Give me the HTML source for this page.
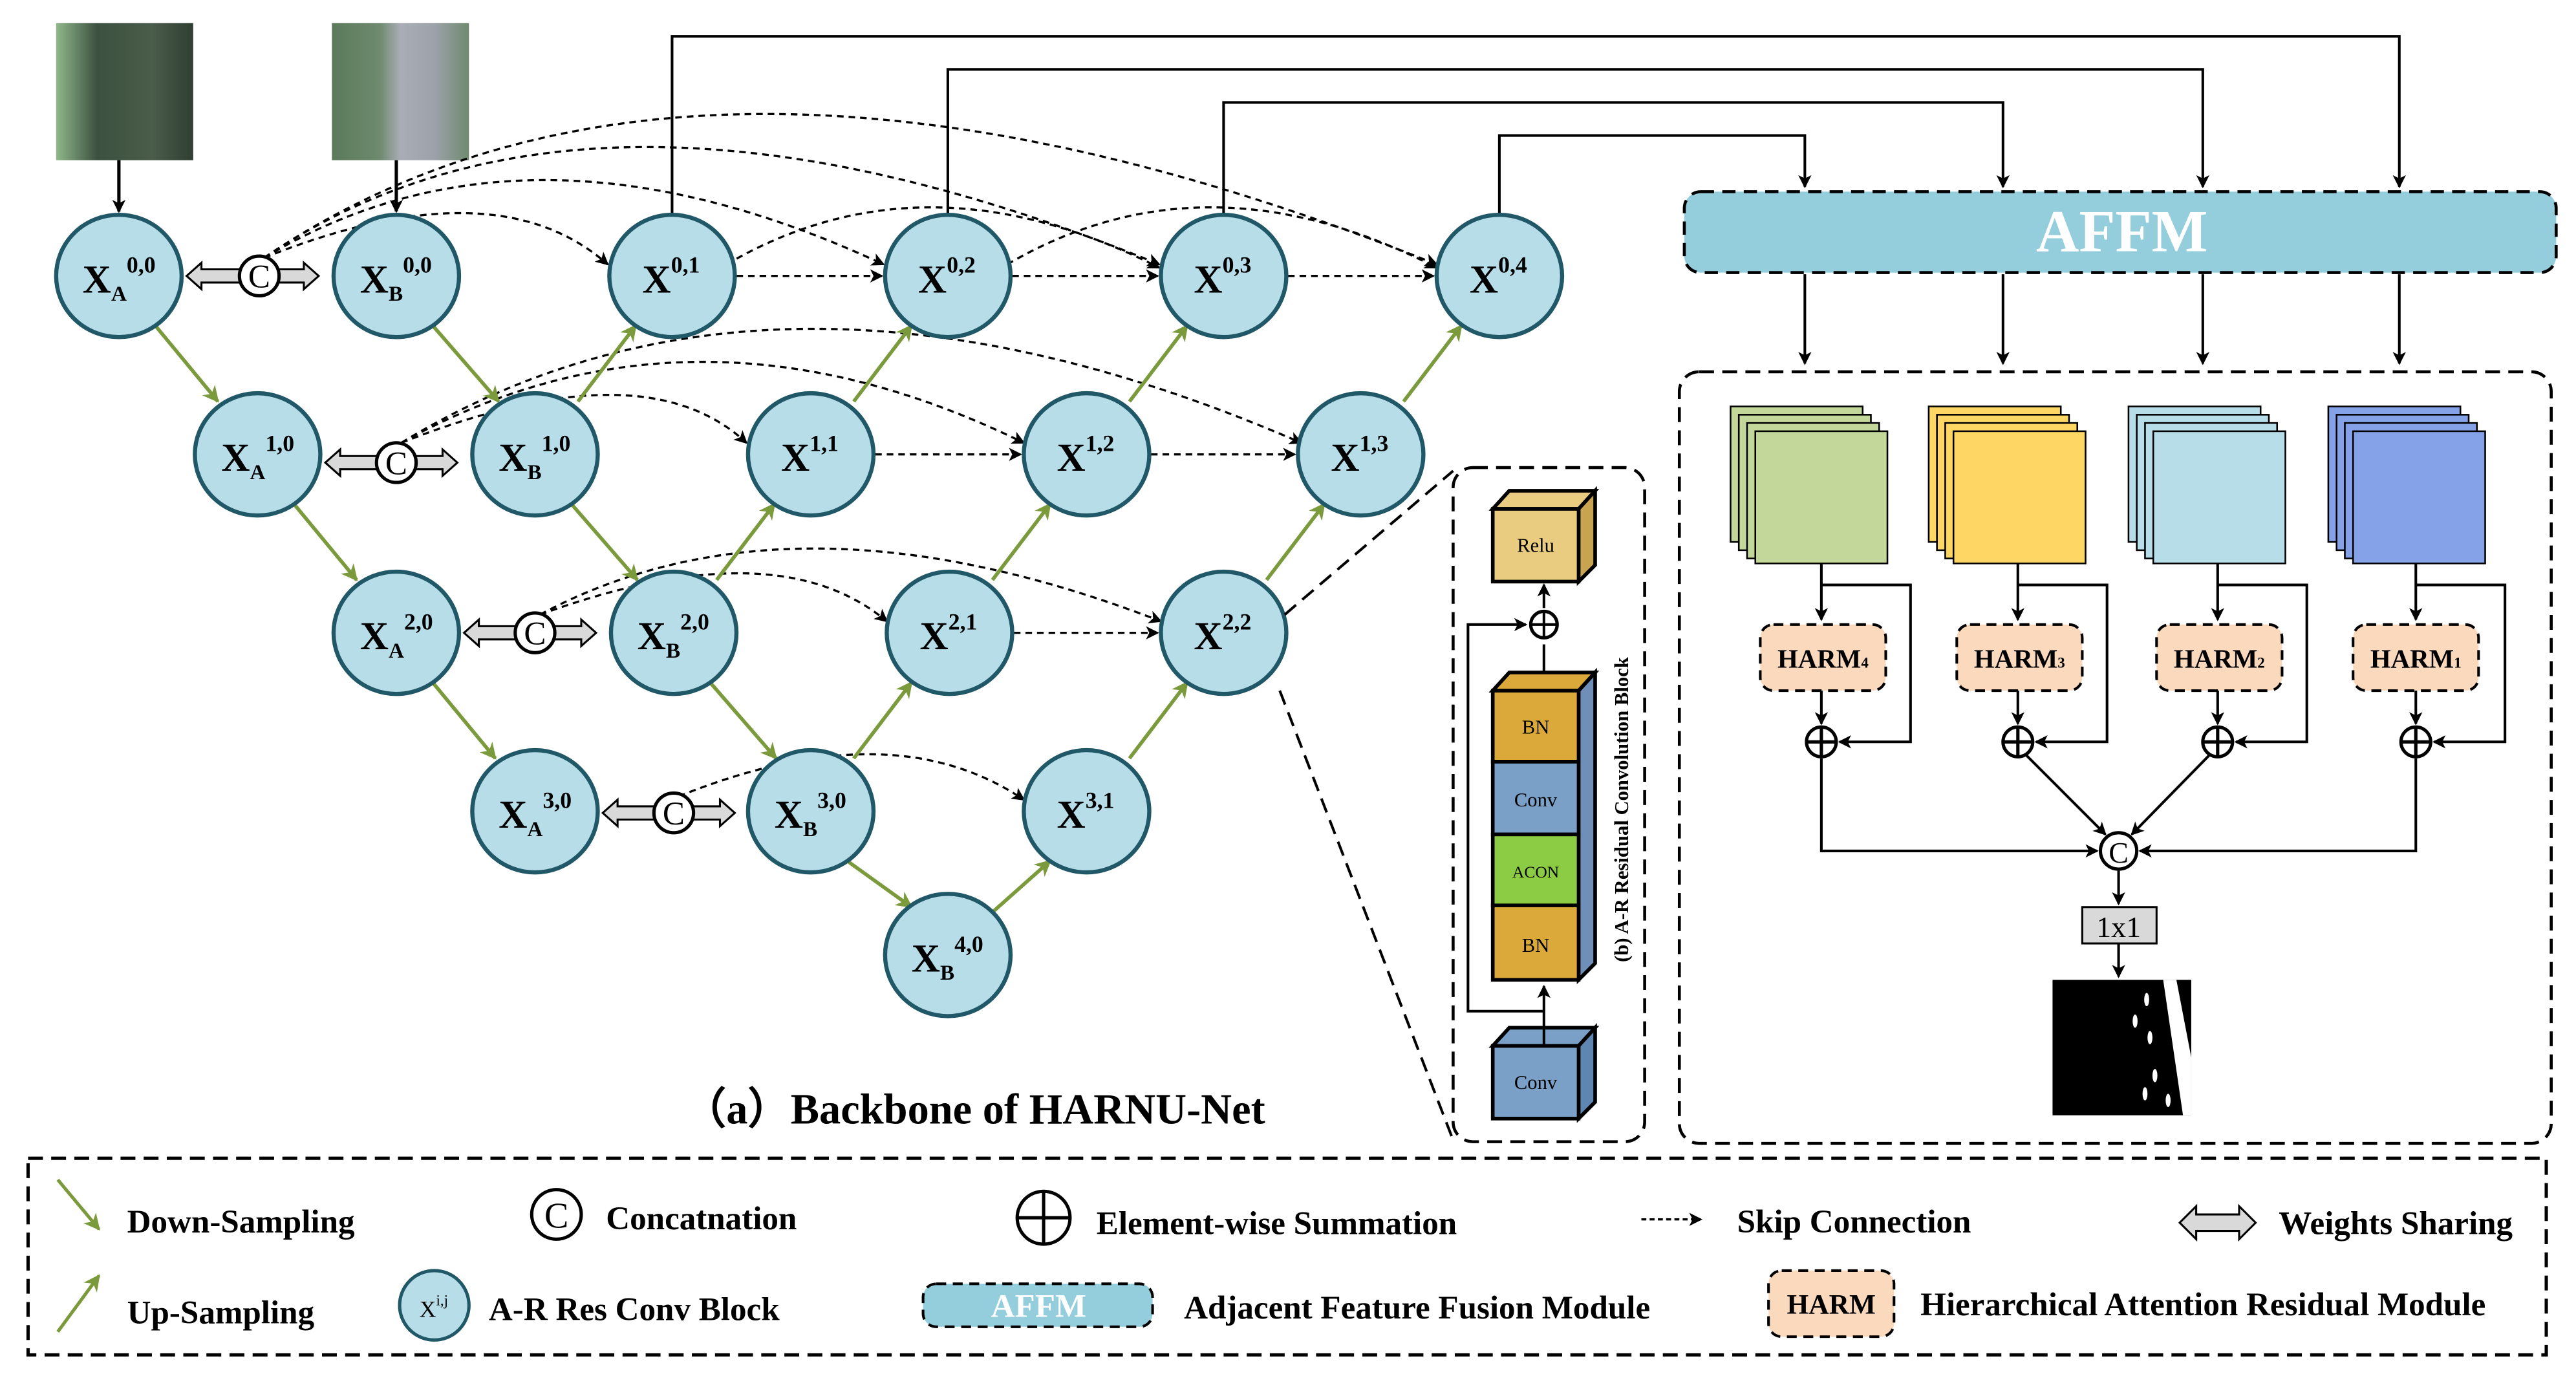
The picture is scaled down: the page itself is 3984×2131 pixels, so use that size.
<!DOCTYPE html>
<html><head><meta charset="utf-8"><style>html,body{margin:0;padding:0;background:#fff}svg{display:block}</style></head><body>
<svg width="3984" height="2131" viewBox="0 0 1560 834" preserveAspectRatio="none" xmlns="http://www.w3.org/2000/svg" font-family="Liberation Serif, serif">
<defs>
<marker id="ak" markerWidth="8" markerHeight="8" refX="7" refY="4" orient="auto" markerUnits="userSpaceOnUse"><path d="M0,0 L8,4 L0,8 L2,4 Z" fill="#000"/></marker>
<marker id="ag" markerWidth="10" markerHeight="10" refX="9" refY="5" orient="auto" markerUnits="userSpaceOnUse"><path d="M0,0 L10,5 L0,10 L3,5 Z" fill="#7a9a3c"/></marker>
<linearGradient id="img1" x1="0" x2="1"><stop offset="0" stop-color="#8fb88a"/><stop offset="0.3" stop-color="#3c5140"/><stop offset="0.7" stop-color="#4a5c4a"/><stop offset="1" stop-color="#2f3f33"/></linearGradient>
<linearGradient id="img2" x1="0" x2="1"><stop offset="0" stop-color="#5a7a5a"/><stop offset="0.35" stop-color="#6f8a6f"/><stop offset="0.5" stop-color="#a9adb5"/><stop offset="0.75" stop-color="#9da2aa"/><stop offset="1" stop-color="#6e8a6e"/></linearGradient>
</defs>

<!-- input images -->
<rect x="34" y="14" width="83" height="83" fill="url(#img1)"/>
<rect x="201" y="14" width="83" height="83" fill="url(#img2)"/>
<line x1="72" y1="97" x2="72" y2="128" stroke="#000" stroke-width="2" marker-end="url(#ak)"/>
<line x1="240" y1="97" x2="240" y2="128" stroke="#000" stroke-width="2" marker-end="url(#ak)"/>

<!-- top connections to AFFM -->
<g fill="none" stroke="#000" stroke-width="1.6">
<polyline points="407,131 407,22 1453,22 1453,113" marker-end="url(#ak)"/>
<polyline points="574,131 574,42 1334,42 1334,113" marker-end="url(#ak)"/>
<polyline points="741,131 741,62 1213,62 1213,113" marker-end="url(#ak)"/>
<polyline points="908,131 908,82 1093,82 1093,113" marker-end="url(#ak)"/>
</g>

<!-- skip connections -->
<g fill="none" stroke="#000" stroke-width="1.3" stroke-dasharray="4,3">
<line x1="446" y1="167" x2="534" y2="167" marker-end="url(#ak)"/>
<line x1="613" y1="167" x2="701" y2="167" marker-end="url(#ak)"/>
<line x1="780" y1="167" x2="868" y2="167" marker-end="url(#ak)"/>
<line x1="530" y1="275" x2="618" y2="275" marker-end="url(#ak)"/>
<line x1="697" y1="275" x2="784" y2="275" marker-end="url(#ak)"/>
<line x1="614" y1="383" x2="701" y2="383" marker-end="url(#ak)"/>
<path d="M160,156 Q300,100 368,160" marker-end="url(#ak)"/>
<path d="M160,156 Q320,60 535,160" marker-end="url(#ak)"/>
<path d="M160,156 Q360,20 702,160" marker-end="url(#ak)"/>
<path d="M160,156 Q420,-20 870,160" marker-end="url(#ak)"/>
<path d="M440,160 Q560,90 702,162" marker-end="url(#ak)"/>
<path d="M610,160 Q730,90 870,162" marker-end="url(#ak)"/>
<path d="M243,268 Q390,210 452,268" marker-end="url(#ak)"/>
<path d="M243,268 Q420,170 620,268" marker-end="url(#ak)"/>
<path d="M243,268 Q470,130 788,268" marker-end="url(#ak)"/>
<path d="M327,372 Q470,320 537,376" marker-end="url(#ak)"/>
<path d="M327,372 Q480,290 703,376" marker-end="url(#ak)"/>
<path d="M411,482 Q540,430 620,484" marker-end="url(#ak)"/>
</g>

<!-- green sampling arrows -->
<g stroke="#7a9a3c" stroke-width="2.2" fill="none">
<line x1="94" y1="197" x2="132" y2="243" marker-end="url(#ag)"/>
<line x1="178" y1="305" x2="216" y2="351" marker-end="url(#ag)"/>
<line x1="262" y1="413" x2="300" y2="459" marker-end="url(#ag)"/>
<line x1="262" y1="197" x2="302" y2="243" marker-end="url(#ag)"/>
<line x1="346" y1="305" x2="386" y2="351" marker-end="url(#ag)"/>
<line x1="430" y1="413" x2="470" y2="459" marker-end="url(#ag)"/>
<line x1="513" y1="521" x2="552" y2="549" marker-end="url(#ag)"/>
<line x1="350" y1="243" x2="385" y2="197" marker-end="url(#ag)"/>
<line x1="517" y1="243" x2="552" y2="197" marker-end="url(#ag)"/>
<line x1="684" y1="243" x2="719" y2="197" marker-end="url(#ag)"/>
<line x1="850" y1="243" x2="885" y2="197" marker-end="url(#ag)"/>
<line x1="434" y1="351" x2="469" y2="305" marker-end="url(#ag)"/>
<line x1="601" y1="351" x2="636" y2="305" marker-end="url(#ag)"/>
<line x1="767" y1="351" x2="802" y2="305" marker-end="url(#ag)"/>
<line x1="517" y1="459" x2="552" y2="413" marker-end="url(#ag)"/>
<line x1="684" y1="459" x2="719" y2="413" marker-end="url(#ag)"/>
<line x1="600" y1="553" x2="636" y2="521" marker-end="url(#ag)"/>
</g>

<!-- weight sharing arrows + C -->
<g fill="#d9d9d9" stroke="#000" stroke-width="1.2">
<path d="M113,167 l9,-8 v4 h62 v-4 l9,8 l-9,8 v-4 h-62 v4 z"/>
<path d="M197,280 l9,-8 v4 h62 v-4 l9,8 l-9,8 v-4 h-62 v4 z"/>
<path d="M281,383 l9,-8 v4 h62 v-4 l9,8 l-9,8 v-4 h-62 v4 z"/>
<path d="M365,492 l9,-8 v4 h62 v-4 l9,8 l-9,8 v-4 h-62 v4 z"/>
</g>
<g fill="#fff" stroke="#000" stroke-width="2">
<circle cx="157" cy="167" r="12"/><circle cx="240" cy="280" r="12"/><circle cx="324" cy="383" r="12"/><circle cx="408" cy="492" r="12"/>
</g>
<g font-size="20" text-anchor="middle">
<text x="157" y="174">C</text><text x="240" y="287">C</text><text x="324" y="390">C</text><text x="408" y="499">C</text>
</g>

<!-- nodes -->
<g fill="#b6dde8" stroke="#215868" stroke-width="2.5">
<ellipse cx="72" cy="167" rx="38" ry="37"/><ellipse cx="240" cy="167" rx="38" ry="37"/><ellipse cx="407" cy="167" rx="38" ry="37"/><ellipse cx="574" cy="167" rx="38" ry="37"/><ellipse cx="741" cy="167" rx="38" ry="37"/><ellipse cx="908" cy="167" rx="38" ry="37"/>
<ellipse cx="156" cy="275" rx="38" ry="37"/><ellipse cx="324" cy="275" rx="38" ry="37"/><ellipse cx="491" cy="275" rx="38" ry="37"/><ellipse cx="658" cy="275" rx="38" ry="37"/><ellipse cx="824" cy="275" rx="38" ry="37"/>
<ellipse cx="240" cy="383" rx="38" ry="37"/><ellipse cx="408" cy="383" rx="38" ry="37"/><ellipse cx="575" cy="383" rx="38" ry="37"/><ellipse cx="741" cy="383" rx="38" ry="37"/>
<ellipse cx="324" cy="491" rx="38" ry="37"/><ellipse cx="491" cy="491" rx="38" ry="37"/><ellipse cx="658" cy="491" rx="38" ry="37"/>
<ellipse cx="574" cy="578" rx="38" ry="37"/>
</g>
<g font-weight="bold" font-size="24">
<text x="50" y="177">X<tspan font-size="13" dy="5">A</tspan><tspan font-size="14" dy="-17">0,0</tspan></text>
<text x="218" y="177">X<tspan font-size="13" dy="5">B</tspan><tspan font-size="14" dy="-17">0,0</tspan></text>
<text x="134" y="285">X<tspan font-size="13" dy="5">A</tspan><tspan font-size="14" dy="-17">1,0</tspan></text>
<text x="302" y="285">X<tspan font-size="13" dy="5">B</tspan><tspan font-size="14" dy="-17">1,0</tspan></text>
<text x="218" y="393">X<tspan font-size="13" dy="5">A</tspan><tspan font-size="14" dy="-17">2,0</tspan></text>
<text x="386" y="393">X<tspan font-size="13" dy="5">B</tspan><tspan font-size="14" dy="-17">2,0</tspan></text>
<text x="302" y="501">X<tspan font-size="13" dy="5">A</tspan><tspan font-size="14" dy="-17">3,0</tspan></text>
<text x="469" y="501">X<tspan font-size="13" dy="5">B</tspan><tspan font-size="14" dy="-17">3,0</tspan></text>
<text x="552" y="588">X<tspan font-size="13" dy="5">B</tspan><tspan font-size="14" dy="-17">4,0</tspan></text>
<text x="389" y="177">X<tspan font-size="14" dy="-12">0,1</tspan></text>
<text x="556" y="177">X<tspan font-size="14" dy="-12">0,2</tspan></text>
<text x="723" y="177">X<tspan font-size="14" dy="-12">0,3</tspan></text>
<text x="890" y="177">X<tspan font-size="14" dy="-12">0,4</tspan></text>
<text x="473" y="285">X<tspan font-size="14" dy="-12">1,1</tspan></text>
<text x="640" y="285">X<tspan font-size="14" dy="-12">1,2</tspan></text>
<text x="806" y="285">X<tspan font-size="14" dy="-12">1,3</tspan></text>
<text x="557" y="393">X<tspan font-size="14" dy="-12">2,1</tspan></text>
<text x="723" y="393">X<tspan font-size="14" dy="-12">2,2</tspan></text>
<text x="640" y="501">X<tspan font-size="14" dy="-12">3,1</tspan></text>
</g>

<text x="590" y="680" font-size="26" font-weight="bold" text-anchor="middle">（a）Backbone of HARNU-Net</text>

<!-- zoom lines -->
<g stroke="#000" stroke-width="1.6" stroke-dasharray="9,5" fill="none">
<line x1="778" y1="372" x2="880" y2="285"/>
<line x1="775" y1="418" x2="880" y2="690"/>
</g>

<!-- (b) block -->
<rect x="880" y="283" width="116" height="408" rx="12" fill="none" stroke="#000" stroke-width="1.8" stroke-dasharray="9,5"/>
<g stroke="#000" stroke-width="2.2">
<polygon points="904,308 914,297 966,297 956,308" fill="#e9cc80"/><polygon points="956,308 966,297 966,342 956,352" fill="#c8a350"/><rect x="904" y="308" width="52" height="44" fill="#e9cc80"/>
<polygon points="904,418 914,407 966,407 956,418" fill="#dba93a"/><polygon points="956,418 966,407 966,583 956,593" fill="#6f8fb8"/>
<rect x="904" y="418" width="52" height="43" fill="#dba93a"/>
<rect x="904" y="461" width="52" height="44" fill="#7aa0c8"/>
<rect x="904" y="505" width="52" height="43" fill="#8ccc44"/>
<rect x="904" y="548" width="52" height="45" fill="#dba93a"/>
<polygon points="904,633 914,622 966,622 956,633" fill="#7aa0c8"/><polygon points="956,633 966,622 966,667 956,677" fill="#5f86b0"/><rect x="904" y="633" width="52" height="44" fill="#7aa0c8"/>
</g>
<g font-size="12" text-anchor="middle">
<text x="930" y="334">Relu</text><text x="930" y="444">BN</text><text x="930" y="488">Conv</text><text x="930" y="531" font-size="10">ACON</text><text x="930" y="576">BN</text><text x="930" y="659">Conv</text>
</g>
<g stroke="#000" stroke-width="1.6" fill="none">
<line x1="935" y1="633" x2="935" y2="597" marker-end="url(#ak)"/>
<line x1="935" y1="407" x2="935" y2="390"/>
<line x1="935" y1="368" x2="935" y2="354" marker-end="url(#ak)"/>
<polyline points="935,612 889,612 889,378 924,378" marker-end="url(#ak)"/>
<circle cx="935" cy="378" r="8" fill="#fff" stroke-width="2"/>
<line x1="927" y1="378" x2="943" y2="378"/><line x1="935" y1="370" x2="935" y2="386"/>
</g>
<text transform="translate(986,490) rotate(-90)" font-size="12" font-weight="bold" text-anchor="middle">(b) A-R Residual Convolution Block</text>

<!-- AFFM -->
<rect x="1020" y="116" width="528" height="49" rx="10" fill="#94cddb" stroke="#000" stroke-width="1.8" stroke-dasharray="8,5"/>
<text x="1285" y="152" font-size="36" font-weight="bold" fill="#fff" text-anchor="middle">AFFM</text>
<g stroke="#000" stroke-width="1.6">
<line x1="1093" y1="166" x2="1093" y2="220" marker-end="url(#ak)"/>
<line x1="1213" y1="166" x2="1213" y2="220" marker-end="url(#ak)"/>
<line x1="1334" y1="166" x2="1334" y2="220" marker-end="url(#ak)"/>
<line x1="1453" y1="166" x2="1453" y2="220" marker-end="url(#ak)"/>
</g>
<rect x="1017" y="225" width="528" height="467" rx="12" fill="none" stroke="#000" stroke-width="1.8" stroke-dasharray="9,5"/>

<!-- stacks -->
<g stroke="#000" stroke-width="1">
<rect x="1048" y="246" width="80" height="82" fill="#c4d79b"/><rect x="1053" y="251" width="80" height="82" fill="#c4d79b"/><rect x="1058" y="256" width="80" height="82" fill="#c4d79b"/><rect x="1063" y="261" width="80" height="80" fill="#c4d79b"/>
<rect x="1168" y="246" width="80" height="82" fill="#fdd663"/><rect x="1173" y="251" width="80" height="82" fill="#fdd663"/><rect x="1178" y="256" width="80" height="82" fill="#fdd663"/><rect x="1183" y="261" width="80" height="80" fill="#fdd663"/>
<rect x="1289" y="246" width="80" height="82" fill="#b6dde8"/><rect x="1294" y="251" width="80" height="82" fill="#b6dde8"/><rect x="1299" y="256" width="80" height="82" fill="#b6dde8"/><rect x="1304" y="261" width="80" height="80" fill="#b6dde8"/>
<rect x="1410" y="246" width="80" height="82" fill="#85a2e8"/><rect x="1415" y="251" width="80" height="82" fill="#85a2e8"/><rect x="1420" y="256" width="80" height="82" fill="#85a2e8"/><rect x="1425" y="261" width="80" height="80" fill="#85a2e8"/>
</g>

<!-- HARM branches -->
<g stroke="#000" stroke-width="1.6" fill="none">
<line x1="1103" y1="341" x2="1103" y2="375" marker-end="url(#ak)"/><polyline points="1103,354 1157,354 1157,449 1114,449" marker-end="url(#ak)"/><line x1="1103" y1="418" x2="1103" y2="438" marker-end="url(#ak)"/>
<line x1="1222" y1="341" x2="1222" y2="375" marker-end="url(#ak)"/><polyline points="1222,354 1276,354 1276,449 1233,449" marker-end="url(#ak)"/><line x1="1222" y1="418" x2="1222" y2="438" marker-end="url(#ak)"/>
<line x1="1343" y1="341" x2="1343" y2="375" marker-end="url(#ak)"/><polyline points="1343,354 1397,354 1397,449 1354,449" marker-end="url(#ak)"/><line x1="1343" y1="418" x2="1343" y2="438" marker-end="url(#ak)"/>
<line x1="1463" y1="341" x2="1463" y2="375" marker-end="url(#ak)"/><polyline points="1463,354 1517,354 1517,449 1474,449" marker-end="url(#ak)"/><line x1="1463" y1="418" x2="1463" y2="438" marker-end="url(#ak)"/>
<polyline points="1103,459 1103,515 1270,515" marker-end="url(#ak)"/>
<line x1="1227" y1="457" x2="1275" y2="505" marker-end="url(#ak)"/>
<line x1="1338" y1="457" x2="1291" y2="505" marker-end="url(#ak)"/>
<polyline points="1463,459 1463,515 1296,515" marker-end="url(#ak)"/>
<line x1="1283" y1="527" x2="1283" y2="547" marker-end="url(#ak)"/>
<line x1="1283" y1="571" x2="1283" y2="591" marker-end="url(#ak)"/>
</g>
<g fill="#fbd9bd" stroke="#000" stroke-width="1.6" stroke-dasharray="6,4">
<rect x="1066" y="378" width="76" height="40" rx="8"/><rect x="1185" y="378" width="76" height="40" rx="8"/><rect x="1306" y="378" width="76" height="40" rx="8"/><rect x="1425" y="378" width="76" height="40" rx="8"/>
</g>
<g font-size="16" font-weight="bold" text-anchor="middle">
<text x="1104" y="404">HARM<tspan font-size="9">4</tspan></text>
<text x="1223" y="404">HARM<tspan font-size="9">3</tspan></text>
<text x="1344" y="404">HARM<tspan font-size="9">2</tspan></text>
<text x="1463" y="404">HARM<tspan font-size="9">1</tspan></text>
</g>
<g stroke="#000" stroke-width="2" fill="#fff">
<circle cx="1103" cy="449" r="9"/><circle cx="1222" cy="449" r="9"/><circle cx="1343" cy="449" r="9"/><circle cx="1463" cy="449" r="9"/>
<path d="M1094,449h18M1103,440v18M1213,449h18M1222,440v18M1334,449h18M1343,440v18M1454,449h18M1463,440v18" fill="none"/>
<circle cx="1283" cy="515" r="11"/>
</g>
<text x="1283" y="522" font-size="18" text-anchor="middle">C</text>
<rect x="1261" y="549" width="45" height="22" fill="#d9d9d9" stroke="#000" stroke-width="1.2"/>
<text x="1283" y="567" font-size="18" text-anchor="middle">1x1</text>
<rect x="1243" y="593" width="84" height="82" fill="#000"/>
<polygon points="1310,593 1318,593 1327,640 1327,675 1322,675" fill="#fff"/>
<g fill="#fff"><ellipse cx="1300" cy="605" rx="1.5" ry="4"/><ellipse cx="1293" cy="618" rx="1.5" ry="4"/><ellipse cx="1302" cy="628" rx="1.5" ry="4"/><ellipse cx="1305" cy="651" rx="1.5" ry="4"/><ellipse cx="1299" cy="662" rx="1.5" ry="4"/><ellipse cx="1313" cy="666" rx="1.5" ry="4"/></g>

<!-- legend -->
<rect x="17" y="701" width="1525" height="119" fill="none" stroke="#000" stroke-width="2" stroke-dasharray="9,5"/>
<g font-size="20" font-weight="bold">
<line x1="35" y1="714" x2="60" y2="744" stroke="#7a9a3c" stroke-width="2" marker-end="url(#ag)"/>
<text x="77" y="746">Down-Sampling</text>
<circle cx="337" cy="735" r="15" fill="#fff" stroke="#000" stroke-width="2"/><text x="337" y="743" text-anchor="middle" font-weight="normal" font-size="22">C</text>
<text x="367" y="744">Concatnation</text>
<circle cx="632" cy="737" r="16" fill="#fff" stroke="#000" stroke-width="2"/><path d="M616,737h32M632,721v32" stroke="#000" stroke-width="2"/>
<text x="664" y="747">Element-wise Summation</text>
<line x1="994" y1="738" x2="1030" y2="738" stroke="#000" stroke-width="1.3" stroke-dasharray="3,2" marker-end="url(#ak)"/>
<text x="1052" y="746">Skip Connection</text>
<path d="M1320,740 l10,-10 v5 h26 v-5 l10,10 l-10,10 v-5 h-26 v5 z" fill="#d9d9d9" stroke="#000" stroke-width="1.2"/>
<text x="1380" y="747">Weights Sharing</text>
<line x1="35" y1="806" x2="60" y2="772" stroke="#7a9a3c" stroke-width="2" marker-end="url(#ag)"/>
<text x="77" y="801">Up-Sampling</text>
<ellipse cx="263" cy="790" rx="21" ry="21" fill="#b6dde8" stroke="#215868" stroke-width="2"/>
<text x="254" y="797" font-size="14" font-weight="normal">X<tspan font-size="9" dy="-7">i,j</tspan></text>
<text x="296" y="799">A-R Res Conv Block</text>
<rect x="559" y="777" width="139" height="26" rx="8" fill="#94cddb" stroke="#000" stroke-width="1.6" stroke-dasharray="6,4"/>
<text x="629" y="797" fill="#fff" text-anchor="middle">AFFM</text>
<text x="717" y="798">Adjacent Feature Fusion Module</text>
<rect x="1071" y="769" width="76" height="40" rx="8" fill="#fbd9bd" stroke="#000" stroke-width="1.6" stroke-dasharray="6,4"/>
<text x="1109" y="795" text-anchor="middle" font-size="17">HARM</text>
<text x="1163" y="796">Hierarchical Attention Residual Module</text>
</g>
</svg>
</body></html>
